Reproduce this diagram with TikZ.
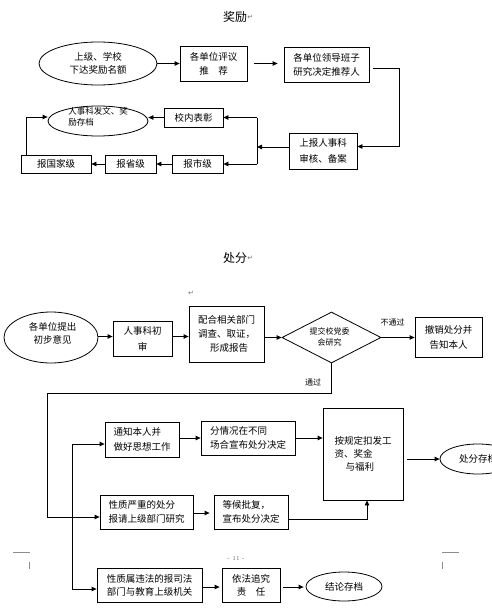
\documentclass[tikz,border=0pt]{standalone}
\usepackage{fontspec}
\newfontfamily\cjk{Noto Sans CJK SC}
\newfontfamily\djv{DejaVu Sans}
\usetikzlibrary{arrows.meta,shapes.geometric}
\begin{document}
\begin{tikzpicture}[x=1pt,y=-1pt,
  ln/.style={line width=0.8pt},
  arr/.style={ln,-{Triangle[length=5pt,width=4.5pt]}},
  box/.style={draw,rectangle,ln,inner sep=0pt,align=center,font=\cjk\fontsize{9.5}{14}\selectfont},
  ell/.style={draw,ellipse,ln,inner sep=0pt,align=center,font=\cjk\fontsize{9.5}{13}\selectfont},
  txt/.style={inner sep=0pt,align=center,font=\cjk\fontsize{9.5}{13}\selectfont},
  small/.style={inner sep=0pt,align=center,font=\cjk\fontsize{8}{11}\selectfont},
  title/.style={inner sep=0pt,font=\cjk\fontsize{12}{14}\selectfont},
  pmark/.style={inner sep=0pt,text=black!55,font=\djv\fontsize{7}{8}\selectfont},
  foot/.style={line width=0.6pt,draw=black!45}]
\useasboundingbox (0,0) rectangle (492,613);
\clip (0,0) rectangle (492,613);
\fill[white] (0,0) rectangle (492,613);

% ---------- 奖励 ----------
\node[title] (t1) at (235,17) {奖励};
\node[pmark,anchor=west] (t1m) at (t1.east) {↵};

\node[ell,minimum width=118pt,minimum height=43pt] (e1) at (98,63.5) {上级、学校\\下达奖励名额};
\node[box,minimum width=67pt,minimum height=35pt] (b2) at (213.5,63.5) {各单位评议\\推　荐};
\node[box,minimum width=85pt,minimum height=35pt] (b3) at (326.5,64.5) {各单位领导班子\\研究决定推荐人};
\node[box,minimum width=68pt,minimum height=36pt,font=\cjk\fontsize{9.5}{16}\selectfont] (b4) at (323,151) {上报人事科\\审核、备案};
\node[box,minimum width=59pt,minimum height=19pt] (b5) at (193.5,117.5) {校内表彰};
\node[draw,ellipse,ln,minimum width=100pt,minimum height=30pt] (e2) at (98,121) {};
\node[inner sep=0pt,align=left,font=\cjk\fontsize{8.5}{10.5}\selectfont] (e2t) at (98,117) {人事科发文、奖\\励存档};
\node[box,minimum width=51pt,minimum height=18pt] (b6) at (197.5,164) {报市级};
\node[box,minimum width=51pt,minimum height=18pt] (b7) at (130.5,164) {报省级};
\node[box,minimum width=70pt,minimum height=18pt] (b8) at (56,164) {报国家级};

\coordinate (k1) at (399,68);
\coordinate (k2) at (257,147);

\draw[arr] (e1.east) -- (e1.east -| b2.west);
\draw[arr,shorten <=7pt,shorten >=6pt] (b2.east) -- (b2.east -| b3.west);
\draw[arr,shorten <=4pt] ([yshift=-3.5pt]b3.east) -| (k1) |- ([yshift=4.5pt]b4.east);
\draw[arr] ([yshift=4pt]b4.west) -- (k2);
\draw[ln] (k2 |- b5.east) -- (k2 |- b6.east);
\draw[arr] (k2 |- b5.east) -- (b5.east);
\draw[arr] (k2 |- b6.east) -- (b6.east);
\draw[arr] (b5.west) -- (b5.west -| e2.east);
\draw[arr] (b6.west) -- (b7.east);
\draw[arr] (b7.west) -- (b8.east);
\draw[arr] ([xshift=6pt]b8.north west) |- ([yshift=4pt]e2.west);

% ---------- 处分 ----------
\node[title] (t2) at (235,258) {处分};
\node[pmark,anchor=west] (t2m) at (t2.east) {↵};
\node[pmark] (m3) at (191,293) {↵};

\node[draw,ellipse,ln,minimum width=94pt,minimum height=51pt] (e3) at (51,337.5) {};
\node[txt] (e3t) at (52.5,333) {各单位提出\\初步意见};
\node[box,minimum width=59pt,minimum height=35pt,font=\cjk\fontsize{9.5}{16}\selectfont] (b9) at (142.5,338.5) {人事科初\\审};
\node[box,minimum width=75pt,minimum height=56pt,align=left] (b10) at (226.5,334) {配合相关部门\\调查、取证，\\\hspace*{12pt}形成报告};
\node[draw,diamond,ln,inner sep=0pt,minimum width=99pt,minimum height=51pt] (d) at (331.5,337.5) {};
\node[small] (dt) at (329.5,336.5) {提交校党委\\会研究};
\node[box,minimum width=67pt,minimum height=40pt,font=\cjk\fontsize{9.5}{15}\selectfont] (b11) at (448.5,337) {撤销处分并\\告知本人};

\draw[arr] (e3.east |- 0,336.5) -- (b9.west |- 0,336.5);
\draw[arr] (b9.east |- 0,336.5) -- (b10.west |- 0,336.5);
\draw[arr] (b10.east |- d.west) -- (d.west);
\draw[arr] (d.east) -- (d.east -| b11.west);
\node[small] (lb1) at (392.5,322) {不通过};

\node[box,minimum width=74pt,minimum height=35pt,align=left,font=\cjk\fontsize{9.5}{15}\selectfont] (b13) at (142,439.5) {通知本人并\\做好思想工作};
\node[box,minimum width=94pt,minimum height=34pt,align=left] (b15) at (248,438) {分情况在不同\\场合宣布处分决定};
\node[box,minimum width=80pt,minimum height=92pt,align=left,font=\cjk\fontsize{9.5}{13}\selectfont] (b16) at (363,454) {按规定扣发工\\资、奖金\\\hspace*{11pt}与福利};
\node[ell,minimum width=76pt,minimum height=30pt] (e4) at (478,459) {处分存档};
\node[box,minimum width=93pt,minimum height=34pt,align=left] (b12) at (146.5,512) {性质严重的处分\\报请上级部门研究};
\node[box,minimum width=74pt,minimum height=34pt,align=left] (b17) at (251,512) {等候批复，\\宣布处分决定};
\node[box,minimum width=105pt,minimum height=34pt,align=left,font=\cjk\fontsize{9.5}{13}\selectfont] (b14) at (149.5,585) {性质属违法的报司法\\部门与教育上级机关};
\node[box,minimum width=58pt,minimum height=34pt,font=\cjk\fontsize{9.5}{13}\selectfont] (b18) at (251,585) {依法追究\\责　任};
\node[ell,minimum width=76pt,minimum height=29pt] (e5) at (344,586.5) {结论存档};

\coordinate (k3) at (47,393);
\coordinate (k4) at (72,517);
\draw[arr] (d.south) |- (k3) |- ([yshift=-5pt]b12.west);
\node[small] (lb2) at (313,382) {通过};
\draw[arr] (k4) |- ([yshift=-4.5pt]b13.west);
\draw[arr] (k4) |- ([yshift=-4pt]b14.west);
\draw[arr] (b13.east |- 0,438) -- (b15.west |- 0,438);
\draw[arr] (b15.east) -- (b15.east -| b16.west);
\draw[arr,shorten <=4pt] (b16.east |- e4.west) -- (e4.west);
\draw[arr,shorten >=4pt] ([yshift=-1pt]b12.east) -- ([yshift=-1pt]b12.east -| b17.west);
\draw[arr] ([yshift=-7pt]b17.east) -| ([xshift=4pt]b16.south);
\draw[arr,shorten >=2pt] (b14.east |- 0,587) -- (b18.west |- 0,587);
\draw[arr,shorten <=3pt,shorten >=2pt] (b18.east |- 0,587) -- (e5.west |- 0,587);

% ---------- footer ----------
\draw[foot] (13,552) -- (30,552);
\draw[foot] (29,562) -- (29,569);
\draw[foot] (442,552) -- (459,552);
\draw[foot] (442,562) -- (442,569);
\node[inner sep=0pt,text=black!60,font=\fontsize{6}{7}\selectfont] (pg) at (236,558) {- 11 -};
\end{tikzpicture}
\end{document}
